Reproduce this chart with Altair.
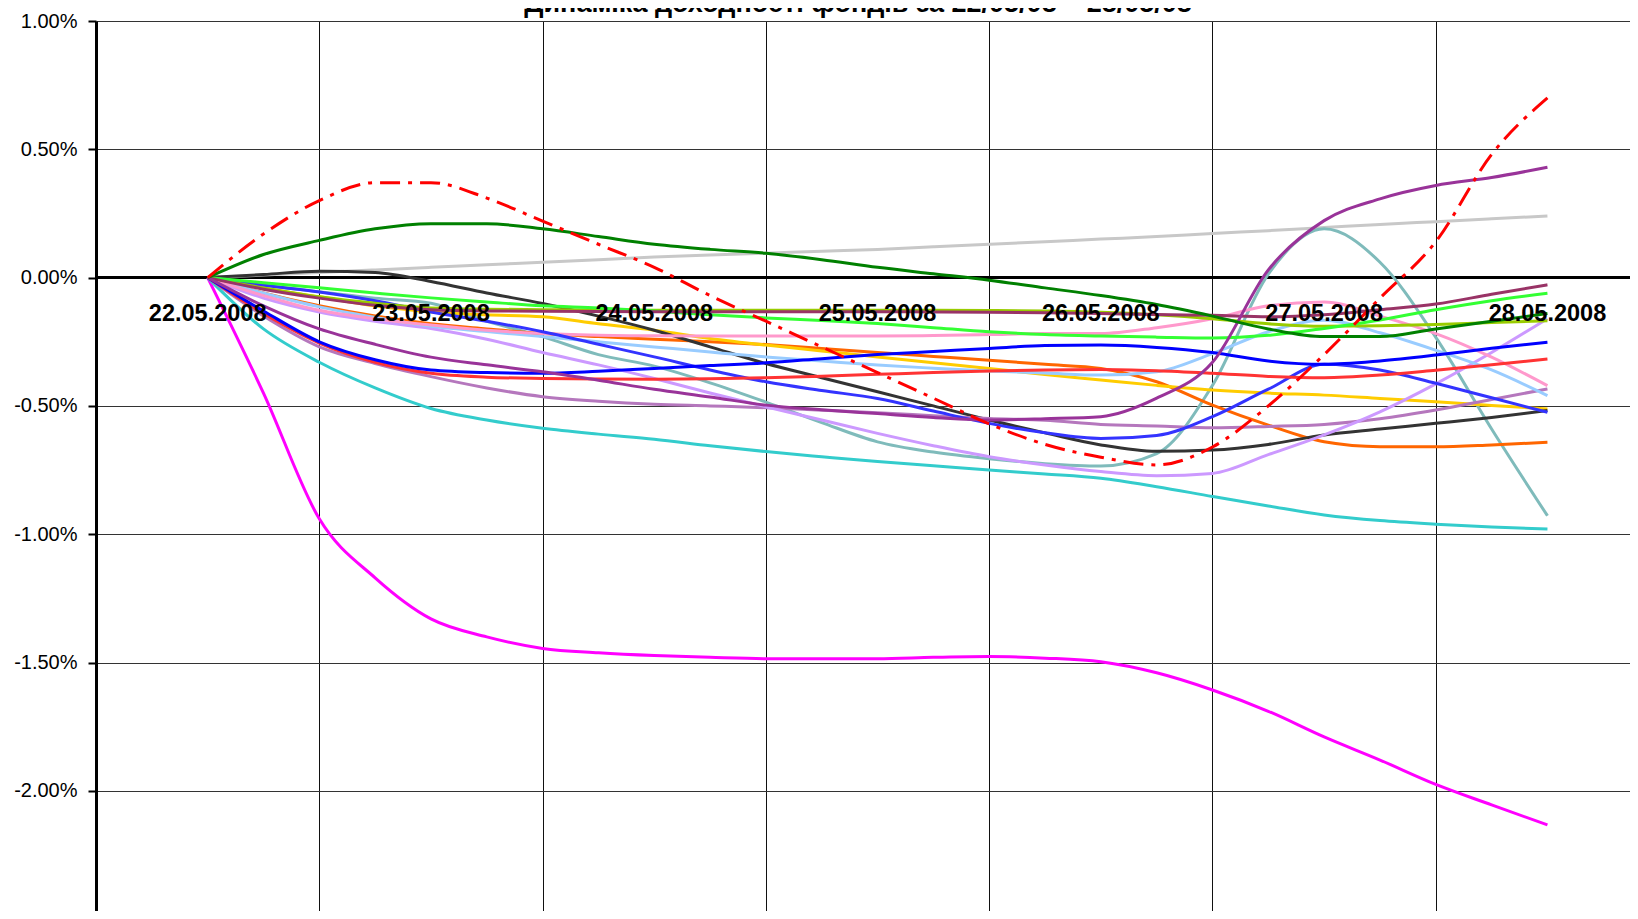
import altair as alt
import pandas as pd

# x positions (days from 22.05.2008), quarter-day resolution
days = [0.0, 0.25, 0.5, 0.75, 1.0, 1.25, 1.5, 1.75, 2.0, 2.25, 2.5, 2.75, 3.0,
        3.25, 3.5, 3.75, 4.0, 4.25, 4.5, 4.75, 5.0, 5.25, 5.5, 5.75, 6.0]

dates = ["22.05.2008", "23.05.2008", "24.05.2008", "25.05.2008",
         "26.05.2008", "27.05.2008", "28.05.2008"]
date_pos = [0, 1, 2, 3, 4, 5, 6]

y_ticks = [-2.5, -2.0, -1.5, -1.0, -0.5, 0.0, 0.5, 1.0]
x_grid = [0.5, 1.5, 2.5, 3.5, 4.5, 5.5]

title_text = "Динаміка доходності фондів за 22/05/08 – 28/05/08"

# yields, %
s_red_dashdot = [0, 0.17, 0.30, 0.37, 0.37, 0.31, 0.22, 0.13, 0.04, -0.07, -0.17, -0.27, -0.37,
                 -0.47, -0.57, -0.65, -0.70, -0.73, -0.66, -0.50, -0.30, -0.08, 0.14, 0.48, 0.70]
s_dark_green = [0, 0.09, 0.145, 0.19, 0.21, 0.21, 0.19, 0.16, 0.13, 0.11, 0.095, 0.07, 0.04,
                0.015, -0.01, -0.04, -0.07, -0.105, -0.15, -0.20, -0.23, -0.23, -0.20, -0.17, -0.14]
s_light_gray = [0, 0.01, 0.02, 0.03, 0.04, 0.05, 0.06, 0.07, 0.08, 0.088, 0.095, 0.103, 0.11,
                0.12, 0.13, 0.14, 0.15, 0.16, 0.172, 0.183, 0.195, 0.207, 0.218, 0.229, 0.24]
s_magenta = [0, -0.45, -0.94, -1.17, -1.33, -1.40, -1.445, -1.462, -1.473, -1.48, -1.485, -1.485, -1.485,
             -1.48, -1.477, -1.483, -1.497, -1.54, -1.607, -1.69, -1.79, -1.88, -1.975, -2.055, -2.133]
s_cyan = [0, -0.20, -0.33, -0.43, -0.51, -0.555, -0.587, -0.61, -0.63, -0.655, -0.678, -0.698, -0.717,
          -0.733, -0.75, -0.765, -0.782, -0.815, -0.853, -0.89, -0.925, -0.947, -0.961, -0.972, -0.98]
s_teal = [0, -0.03, -0.055, -0.08, -0.10, -0.17, -0.23, -0.30, -0.345, -0.41, -0.485, -0.565, -0.64,
          -0.68, -0.706, -0.725, -0.734, -0.686, -0.42, 0.014, 0.19, 0.06, -0.233, -0.59, -0.928]
s_purple = [0, -0.11, -0.20, -0.26, -0.31, -0.34, -0.367, -0.40, -0.435, -0.465, -0.497, -0.515, -0.53,
            -0.545, -0.555, -0.55, -0.542, -0.47, -0.33, 0.03, 0.222, 0.307, 0.359, 0.39, 0.43]
s_maroon = [0, -0.045, -0.08, -0.108, -0.125, -0.13, -0.131, -0.132, -0.133, -0.133, -0.133, -0.133, -0.133,
            -0.134, -0.135, -0.137, -0.14, -0.144, -0.147, -0.153, -0.145, -0.125, -0.103, -0.065, -0.028]
s_bright_green = [0, -0.02, -0.04, -0.06, -0.079, -0.095, -0.11, -0.118, -0.13, -0.145, -0.157, -0.167, -0.179,
                  -0.195, -0.211, -0.222, -0.228, -0.232, -0.235, -0.225, -0.198, -0.165, -0.125, -0.09, -0.061]
s_yellow_green = [0, -0.04, -0.075, -0.10, -0.118, -0.123, -0.125, -0.126, -0.127, -0.127, -0.127, -0.127, -0.127,
                  -0.127, -0.128, -0.13, -0.135, -0.145, -0.16, -0.18, -0.19, -0.188, -0.183, -0.175, -0.168]
s_lavender = [0, -0.08, -0.134, -0.17, -0.198, -0.24, -0.292, -0.34, -0.393, -0.45, -0.503, -0.555, -0.607,
              -0.655, -0.698, -0.73, -0.756, -0.772, -0.763, -0.69, -0.613, -0.523, -0.414, -0.292, -0.16]
s_blue = [0, -0.13, -0.25, -0.32, -0.36, -0.37, -0.373, -0.365, -0.354, -0.343, -0.332, -0.316, -0.30,
          -0.288, -0.276, -0.265, -0.263, -0.272, -0.292, -0.325, -0.338, -0.325, -0.302, -0.275, -0.252]
s_red_step = [0, -0.14, -0.255, -0.33, -0.373, -0.388, -0.393, -0.395, -0.396, -0.394, -0.39, -0.384, -0.377,
              -0.37, -0.364, -0.36, -0.358, -0.363, -0.373, -0.385, -0.39, -0.38, -0.361, -0.34, -0.317]
s_pink = [0, -0.07, -0.127, -0.16, -0.185, -0.205, -0.218, -0.225, -0.227, -0.228, -0.228, -0.228, -0.228,
          -0.226, -0.222, -0.218, -0.218, -0.195, -0.16, -0.11, -0.095, -0.15, -0.218, -0.31, -0.421]
s_light_blue = [0, -0.06, -0.114, -0.155, -0.19, -0.21, -0.23, -0.25, -0.27, -0.29, -0.309, -0.325, -0.341,
                -0.353, -0.364, -0.372, -0.38, -0.367, -0.296, -0.211, -0.166, -0.215, -0.283, -0.36, -0.46]
s_orchid = [0, -0.15, -0.27, -0.335, -0.386, -0.43, -0.464, -0.482, -0.494, -0.50, -0.507, -0.517, -0.527,
            -0.538, -0.549, -0.556, -0.572, -0.578, -0.585, -0.58, -0.572, -0.55, -0.516, -0.475, -0.434]
s_gold = [0, -0.04, -0.075, -0.11, -0.134, -0.145, -0.153, -0.18, -0.205, -0.237, -0.263, -0.286, -0.309,
          -0.332, -0.354, -0.378, -0.399, -0.42, -0.438, -0.45, -0.458, -0.471, -0.484, -0.498, -0.512]
s_blue_step = [0, -0.03, -0.056, -0.09, -0.134, -0.17, -0.211, -0.26, -0.309, -0.36, -0.406, -0.44, -0.471,
               -0.52, -0.568, -0.605, -0.627, -0.615, -0.542, -0.435, -0.338, -0.36, -0.412, -0.468, -0.525]
s_black = [0, 0.012, 0.025, 0.02, -0.015, -0.06, -0.101, -0.15, -0.205, -0.27, -0.335, -0.39, -0.445,
           -0.50, -0.555, -0.605, -0.652, -0.677, -0.672, -0.65, -0.613, -0.59, -0.568, -0.545, -0.518]
s_orange = [0, -0.06, -0.11, -0.15, -0.18, -0.20, -0.218, -0.23, -0.24, -0.25, -0.261, -0.276, -0.292,
            -0.307, -0.322, -0.338, -0.354, -0.406, -0.497, -0.575, -0.64, -0.659, -0.659, -0.652, -0.642]

series = [
    ("Світло-сірий", "#C8C8C8", s_light_gray),
    ("Пурпурний", "#FF00FF", s_magenta),
    ("Бірюзовий", "#33CCCC", s_cyan),
    ("Сірий-бірюзовий", "#7FBBBB", s_teal),
    ("Помаранчевий", "#FF6600", s_orange),
    ("Золотий", "#FFCC00", s_gold),
    ("Чорний", "#333333", s_black),
    ("Орхідея", "#B577BD", s_orchid),
    ("Лавандовий", "#CC99FF", s_lavender),
    ("Блакитний", "#99CCFF", s_light_blue),
    ("Рожевий", "#FF99CC", s_pink),
    ("Синій штрих", "#3333FF", s_blue_step),
    ("Червоний штрих", "#FF3333", s_red_step),
    ("Синій", "#0000FF", s_blue),
    ("Жовто-зелений", "#99CC00", s_yellow_green),
    ("Яскраво-зелений", "#33FF33", s_bright_green),
    ("Бордовий", "#993366", s_maroon),
    ("Фіолетовий", "#993399", s_purple),
    ("Темно-зелений", "#008000", s_dark_green),
]
dashdot_name = "Червоний пунктир"
dashdot_color = "#FF0000"

rows = []
for name, color, vals in series:
    for d, v in zip(days, vals):
        rows.append({"series": name, "day": d, "value": v})
df = pd.DataFrame(rows)
df_dd = pd.DataFrame({"series": dashdot_name, "day": days, "value": s_red_dashdot})
df_dates = pd.DataFrame({"pos": date_pos, "label": dates})
df_title = pd.DataFrame({"title": [title_text]})

FONT = "Liberation Sans, Arial, sans-serif"
x_scale = alt.Scale(domain=[-0.5, 6.3697], nice=False, zero=False)
y_scale = alt.Scale(domain=[-2.4684, 1.0], nice=False, zero=False)

x_enc = alt.X("day:Q", scale=x_scale,
              axis=alt.Axis(values=x_grid, grid=True, labels=False, ticks=False,
                            domain=False, title=None, gridColor="#111111", gridWidth=1))
y_enc = alt.Y("value:Q", scale=y_scale,
              axis=alt.Axis(values=y_ticks, title=None, grid=True, gridColor="#333333", gridWidth=1,
                            labelExpr="replace(format(datum.value, '.2f'), '\u2212', '-') + '%'",
                            labelFont=FONT, labelFontSize=20, labelColor="black", labelPadding=11,
                            tickSize=8, tickWidth=2, tickColor="black",
                            domainColor="black", domainWidth=3))

zero_rule = alt.Chart(df_dates).mark_rule(color="black", strokeWidth=3).encode(y=alt.datum(0))

lines = alt.Chart(df).mark_line(strokeWidth=3, interpolate="monotone", clip=True).encode(
    x=x_enc,
    y=y_enc,
    color=alt.Color("series:N", legend=None,
                    scale=alt.Scale(domain=[s[0] for s in series], range=[s[1] for s in series])),
)

dashdot = alt.Chart(df_dd).mark_line(strokeWidth=3, interpolate="monotone", clip=True,
                                     color=dashdot_color, strokeDash=[20, 8, 4, 8]).encode(
    x=alt.X("day:Q", scale=x_scale),
    y=alt.Y("value:Q", scale=y_scale),
)

labels = alt.Chart(df_dates).mark_text(font=FONT, fontSize=23.5, fontWeight="bold", color="black",
                                       align="center", baseline="alphabetic", dy=43).encode(
    x=alt.X("pos:Q", scale=x_scale),
    y=alt.datum(0),
    text="label:N",
)

# chart title, partly cut by the top edge as in the reference
title = alt.Chart(df_title).mark_text(font=FONT, fontSize=27, fontWeight="bold", color="black",
                                      align="center", baseline="alphabetic").encode(
    x=alt.value(762),
    y=alt.value(-9),
    text="title:N",
)

chart = alt.layer(zero_rule, lines, dashdot, labels, title).properties(
    width=1534,
    height=890,
    autosize=alt.AutoSizeParams(type="none"),
    padding={"left": 88, "top": 13, "right": 0, "bottom": 0},
).configure_view(stroke=None).configure(background="white")

chart.save("out.html", embed_options={"renderer": "svg", "actions": False})
